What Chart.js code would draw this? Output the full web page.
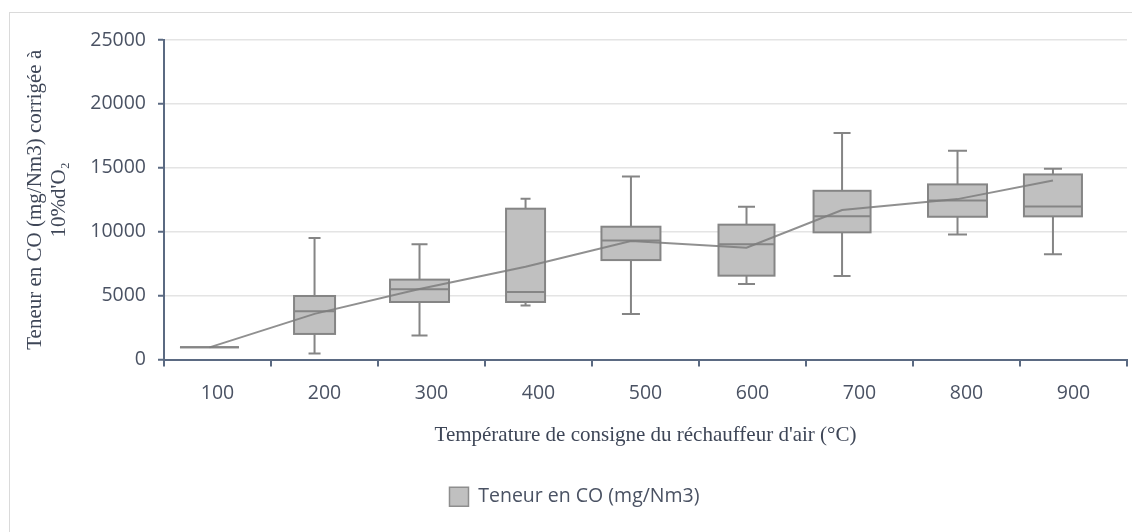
<!DOCTYPE html>
<html>
<head>
<meta charset="utf-8">
<script src="https://cdn.jsdelivr.net/npm/chart.js@4.4.0/dist/chart.umd.min.js"></script>
<style>
  html, body { margin: 0; padding: 0; background: #fff; }
  #wrap { position: relative; width: 1132px; height: 532px; overflow: hidden; }
  #frame { position: absolute; left: 9px; top: 12px; width: 1200px; height: 600px; border: 1px solid #dadada; }
  #c { position: absolute; left: 0; top: 0; }
</style>
</head>
<body>
<div id="wrap">
  <div id="frame"></div>
  <canvas id="c" width="1132" height="532"></canvas>
</div>
<script>
// Températures de consigne (étiquettes de l'axe x)
const temperatures = [100, 200, 300, 400, 500, 600, 700, 800, 900];
// x of each box on the temperature axis
const boxX        = [92.5, 190.7, 288.8, 387.9, 486.4, 594.4, 683.7, 791.6, 880.8];
const whiskerLow  = [950, 470, 1875, 4220, 3560, 5900, 6530, 9790, 8230];
const q1          = [950, 2000, 4500, 4500, 7780, 6560, 9950, 11170, 11200];
const median      = [950, 3770, 5490, 5280, 9320, 9010, 11200, 12450, 11980];
const q3          = [950, 4970, 6250, 11800, 10390, 10550, 13200, 13700, 14480];
const whiskerHigh = [950, 9500, 9010, 12580, 14320, 11950, 17730, 16330, 14920];
const mean        = [950, 3570, 5520, 7250, 9270, 8750, 11700, 12550, 14000];
const yTicks      = [0, 5000, 10000, 15000, 20000, 25000];

const seriesLabel = 'Teneur en CO (mg/Nm3)';

// styles
const boxWidths = [59, 41, 59, 39, 59, 56, 57, 59, 58];
const capWidths = [0, 12, 16, 10, 18, 17, 17, 19, 18];
const axisColor = '#5b6a82';
const textColor = '#4a5263';
const boxFill = '#c0c0c0';
const boxLine = '#858585';
const sans = "'Open Sans', 'Liberation Sans', sans-serif";
const serif = "'Liberation Serif', 'Times New Roman', serif";

const boxPlot = {
  id: 'boxPlot',
  beforeDatasetsDraw(chart) {
    const { ctx, scales: { x, y } } = chart;
    ctx.save();
    ctx.lineWidth = 2;
    ctx.strokeStyle = boxLine;
    ctx.fillStyle = boxFill;
    boxX.forEach((v, i) => {
      const cx = x.getPixelForValue(v);
      const half = boxWidths[i] / 2;
      const cap = capWidths[i] / 2;
      const yLo = y.getPixelForValue(whiskerLow[i]);
      const yHi = y.getPixelForValue(whiskerHigh[i]);
      const yQ1 = y.getPixelForValue(q1[i]);
      const yQ3 = y.getPixelForValue(q3[i]);
      const yMed = y.getPixelForValue(median[i]);
      ctx.beginPath();
      ctx.moveTo(cx, yHi); ctx.lineTo(cx, yQ3);
      ctx.moveTo(cx, yQ1); ctx.lineTo(cx, yLo);
      ctx.moveTo(cx - cap, yHi); ctx.lineTo(cx + cap, yHi);
      ctx.moveTo(cx - cap, yLo); ctx.lineTo(cx + cap, yLo);
      ctx.stroke();
      ctx.fillRect(cx - half, yQ3, half * 2, yQ1 - yQ3);
      ctx.strokeRect(cx - half, yQ3, half * 2, yQ1 - yQ3);
      ctx.beginPath();
      ctx.moveTo(cx - half, yMed); ctx.lineTo(cx + half, yMed);
      ctx.stroke();
    });
    ctx.restore();
  }
};

new Chart(document.getElementById('c'), {
  type: 'line',
  data: {
    datasets: [{
      label: seriesLabel,
      data: boxX.map((v, i) => ({ x: v, y: mean[i] })),
      borderColor: 'rgba(125,125,125,0.85)',
      borderWidth: 2,
      pointRadius: 0,
      tension: 0,
      fill: false,
    }],
  },
  options: {
    responsive: false,
    animation: false,
    devicePixelRatio: 1,
    layout: { padding: { left: 22, top: 40, right: 5, bottom: 15.5 } },
    plugins: {
      tooltip: { enabled: false },
      legend: {
        position: 'bottom',
        labels: {
          font: { family: sans, size: 19.5 },
          color: textColor,
          boxWidth: 19,
          boxHeight: 19,
          padding: 10,
          generateLabels: () => [{
            text: seriesLabel, fillStyle: boxFill, strokeStyle: '#8e8e8e',
            lineWidth: 1.5, hidden: false, datasetIndex: 0, fontColor: textColor,
          }],
        },
      },
    },
    scales: {
      x: {
        type: 'linear',
        min: 50, max: 950,
        afterFit: s => { s.height = 117.5; s.paddingLeft = 0; s.paddingRight = 0; },
        afterBuildTicks: s => {
          s.ticks = [];
          for (let v = 50; v <= 950; v += 50) s.ticks.push({ value: v });
        },
        ticks: {
          autoSkip: false, maxRotation: 0, padding: 15,
          font: { family: sans, size: 19.5 }, color: textColor,
          callback: v => temperatures.includes(v) ? String(v) : '',
        },
        grid: {
          drawOnChartArea: false, tickLength: 7, lineWidth: 2,
          tickColor: c => temperatures.includes(c.tick && c.tick.value) ? 'rgba(0,0,0,0)' : axisColor,
        },
        border: { color: axisColor, width: 2 },
        title: {
          display: true,
          text: "Température de consigne du réchauffeur d'air (°C)",
          font: { family: serif, size: 21, lineHeight: 1.15 },
          color: '#3e4657',
          padding: { top: 0, bottom: 29 },
        },
      },
      y: {
        min: 0, max: 25000,
        afterFit: s => { s.width = 142; },
        afterBuildTicks: s => { s.ticks = yTicks.map(v => ({ value: v })); },
        ticks: {
          padding: 12, font: { family: sans, size: 19.5 }, color: textColor,
          callback: v => String(v),
        },
        grid: { color: '#e4e4e4', lineWidth: 1.5, tickLength: 6, tickColor: axisColor, tickWidth: 2 },
        border: { color: axisColor, width: 2 },
        title: {
          display: true,
          text: ['Teneur en CO (mg/Nm3) corrigée à', "10%d'O\u2082"],
          font: { family: serif, size: 21, lineHeight: 1.15 },
          color: '#3e4657',
          padding: { top: 1, bottom: 0 },
        },
      },
    },
  },
  plugins: [boxPlot],
});
</script>
</body>
</html>
